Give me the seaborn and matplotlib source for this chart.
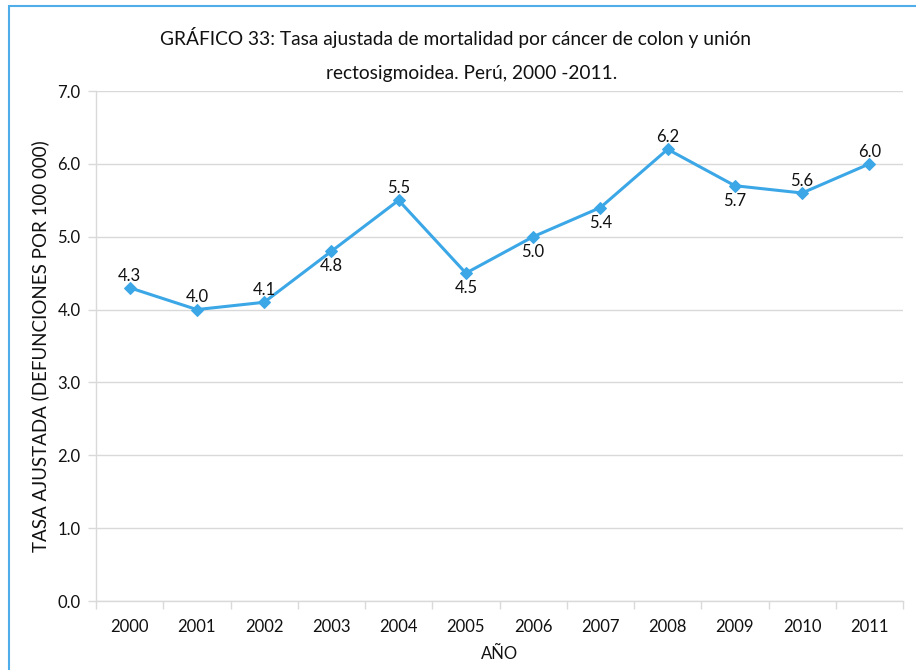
import matplotlib
matplotlib.use("Agg")
import matplotlib.pyplot as plt
from matplotlib.patches import Rectangle
from matplotlib.ticker import FixedLocator
import seaborn as sns
import pandas as pd

years = ["2000", "2001", "2002", "2003", "2004", "2005",
         "2006", "2007", "2008", "2009", "2010", "2011"]
rates = [4.3, 4.0, 4.1, 4.8, 5.5, 4.5, 5.0, 5.4, 6.2, 5.7, 5.6, 6.0]
label_side = ["above", "above", "above", "below", "above", "below",
              "below", "below", "above", "below", "above", "above"]
yticks = [0.0, 1.0, 2.0, 3.0, 4.0, 5.0, 6.0, 7.0]

sns.set_theme(style="white")
plt.rcParams["font.family"] = ["Lato", "DejaVu Sans"]

df = pd.DataFrame({"pos": range(len(years)), "year": years, "rate": rates})

fig = plt.figure(figsize=(9.16, 6.70), dpi=100)
W, H = 916, 670
ax = fig.add_axes([96 / W, (H - 601) / H, (903 - 96) / W, (601 - 91) / H])

line_color = "#3BA7E6"
sns.lineplot(data=df, x="pos", y="rate", ax=ax, color=line_color,
             linewidth=2.2, marker="D", markersize=6,
             markeredgecolor=line_color, markerfacecolor=line_color)

ax.set_xlim(-0.5, len(years) - 0.5)
ax.set_ylim(0, 7)
ax.set_yticks(yticks)
ax.set_yticklabels([f"{v:.1f}" for v in yticks], fontsize=12, color="#111111")
ax.yaxis.grid(True, color="#D9D9D9", linewidth=1)
ax.set_axisbelow(True)

ax.set_xticks(range(len(years)))
ax.set_xticklabels(years, fontsize=12, color="#111111")
ax.xaxis.set_minor_locator(FixedLocator([i - 0.5 for i in range(len(years) + 1)]))
ax.tick_params(axis="x", which="major", length=0, pad=13)
ax.tick_params(axis="x", which="minor", length=6, color="#D9D9D9", width=1,
               direction="out", bottom=True)
ax.tick_params(axis="y", which="major", length=6, color="#D9D9D9", width=1,
               direction="out", left=True, pad=5)

for side in ["top", "right"]:
    ax.spines[side].set_visible(False)
for side in ["left", "bottom"]:
    ax.spines[side].set_color("#D9D9D9")
    ax.spines[side].set_linewidth(1)

for i, (v, s) in enumerate(zip(rates, label_side)):
    dy = 3 if s == "above" else -5
    ax.annotate(f"{v:.1f}", (i, v), xytext=(0, dy), textcoords="offset points",
                ha="center", va="bottom" if s == "above" else "top",
                fontsize=12, color="#111111")

ax.set_xlabel("AÑO", fontsize=12, color="#111111", labelpad=8)
ax.set_ylabel("TASA AJUSTADA (DEFUNCIONES POR 100 000)", fontsize=13.5,
              color="#111111", labelpad=6)

fig.text(455 / W, 1 - 38 / H,
         "GRÁFICO 33: Tasa ajustada de mortalidad por cáncer de colon y unión",
         ha="center", va="center", fontsize=13.8, color="#111111")
fig.text(472 / W, 1 - 73 / H, "rectosigmoidea. Perú, 2000 -2011.",
         ha="center", va="center", fontsize=13.8, color="#111111")

# chart frame (left and top edges visible)
fig.add_artist(Rectangle((9 / W, -0.01), 1.0, 1 - 6 / H + 0.01,
                         transform=fig.transFigure, fill=False,
                         edgecolor="#4FAEEA", linewidth=1.5))

fig.savefig("out.png", dpi=100)
